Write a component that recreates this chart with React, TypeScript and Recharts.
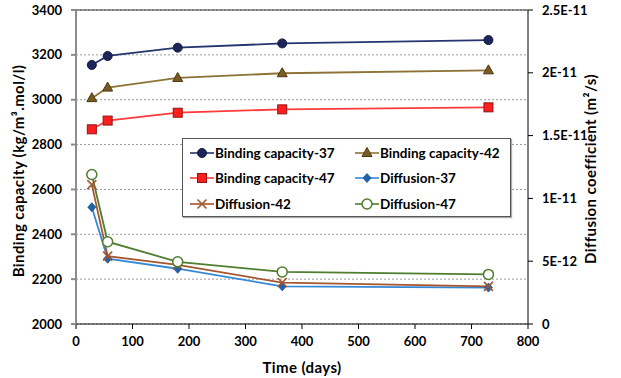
import { ComposedChart, Line, XAxis, YAxis, CartesianGrid, ReferenceLine } from 'recharts';

// curing time (days)
const days = [28, 56, 180, 365, 730];
// binding capacity (kg/m3.mol/l)
const binding37 = [3155, 3195, 3232, 3251, 3266];
const binding42 = [3007, 3054, 3097, 3118, 3131];
const binding47 = [2868, 2907, 2942, 2957, 2966];
// diffusion coefficient (m2/s)
const diffusion37 = [9.3e-12, 5.2e-12, 4.4e-12, 3.0e-12, 2.9e-12];
const diffusion42 = [11.1e-12, 5.4e-12, 4.7e-12, 3.3e-12, 3.0e-12];
const diffusion47 = [11.9e-12, 6.55e-12, 4.95e-12, 4.15e-12, 3.95e-12];

const xTicks = [0, 100, 200, 300, 400, 500, 600, 700, 800];
const leftTicks = [2000, 2200, 2400, 2600, 2800, 3000, 3200, 3400];
const rightTicks = [0, 5e-12, 1e-11, 1.5e-11, 2e-11, 2.5e-11];

const data = days.map((d, i) => ({
  day: d,
  binding37: binding37[i],
  binding42: binding42[i],
  binding47: binding47[i],
  diffusion37: diffusion37[i],
  diffusion42: diffusion42[i],
  diffusion47: diffusion47[i],
}));

type Shape = 'circle' | 'triangle' | 'square' | 'diamond' | 'cross' | 'ring';

const series: { key: string; name: string; axis: string; line: string; fill: string; edge: string; shape: Shape }[] = [
  { key: 'binding37', name: 'Binding capacity-37', axis: 'left', line: '#26346F', fill: '#1C2658', edge: '#141B40', shape: 'circle' },
  { key: 'binding42', name: 'Binding capacity-42', axis: 'left', line: '#8C7235', fill: '#7A5C22', edge: '#4A3810', shape: 'triangle' },
  { key: 'binding47', name: 'Binding capacity-47', axis: 'left', line: '#FF3B3B', fill: '#FF1E1E', edge: '#8E1414', shape: 'square' },
  { key: 'diffusion37', name: 'Diffusion-37', axis: 'right', line: '#3489D6', fill: '#1E63AC', edge: '#1A4F8A', shape: 'diamond' },
  { key: 'diffusion42', name: 'Diffusion-42', axis: 'right', line: '#A6562E', fill: '#A6562E', edge: '#8A4020', shape: 'cross' },
  { key: 'diffusion47', name: 'Diffusion-47', axis: 'right', line: '#4E7E2E', fill: '#ffffff', edge: '#4E7E2E', shape: 'ring' },
];

const font = 'Lato, "Open Sans", sans-serif';

function Marker({ cx, cy, shape, fill, edge }: { cx: number; cy: number; shape: Shape; fill: string; edge: string }) {
  switch (shape) {
    case 'circle':
      return <circle cx={cx} cy={cy} r={4.5} fill={fill} stroke={edge} strokeWidth={1} />;
    case 'triangle':
      return (
        <polygon
          points={`${cx},${cy - 5.5} ${cx - 5},${cy + 3.5} ${cx + 5},${cy + 3.5}`}
          fill={fill}
          stroke={edge}
          strokeWidth={1}
        />
      );
    case 'square':
      return <rect x={cx - 4.5} y={cy - 4.5} width={9} height={9} fill={fill} stroke={edge} strokeWidth={1} />;
    case 'diamond':
      return (
        <polygon
          points={`${cx},${cy - 4.5} ${cx + 4},${cy} ${cx},${cy + 4.5} ${cx - 4},${cy}`}
          fill={fill}
          stroke={edge}
          strokeWidth={0.8}
        />
      );
    case 'cross':
      return (
        <g stroke={fill} strokeWidth={1.6}>
          <line x1={cx - 4.5} y1={cy - 4.5} x2={cx + 4.5} y2={cy + 4.5} />
          <line x1={cx - 4.5} y1={cy + 4.5} x2={cx + 4.5} y2={cy - 4.5} />
        </g>
      );
    default:
      return <circle cx={cx} cy={cy} r={5} fill={fill} stroke={edge} strokeWidth={1.5} />;
  }
}

// axis title drawn at a fixed spot; ignores the props recharts hands to labels
function AxisTitle({ px, py, rot, text }: { px: number; py: number; rot: number; text: string }) {
  return (
    <text
      transform={`translate(${px},${py}) rotate(${rot})`}
      textAnchor="middle"
      fontFamily={font}
      fontWeight={700}
      fontSize={15}
      letterSpacing={0.4}
      fill="#000"
    >
      {text}
    </text>
  );
}

const fmtRight = (v: number) => (v === 0 ? '0' : v.toExponential().replace('e', 'E'));

function ChartLegend() {
  return (
    <div
      style={{
        position: 'absolute',
        left: 182,
        top: 138,
        width: 329,
        height: 79,
        border: '1px solid #555',
        boxShadow: '1px 1px 1px #aaa',
        background: '#fff',
        boxSizing: 'border-box',
        display: 'grid',
        gridTemplateColumns: '165px 160px',
        gridAutoRows: '25.5px',
        paddingLeft: 7,
        paddingTop: 1,
        fontFamily: font,
        fontWeight: 700,
        fontSize: 13.5,
        color: '#000',
      }}
    >
      {series.map((s) => (
        <div key={s.key} style={{ display: 'flex', alignItems: 'center', height: 25.5 }}>
          <svg width={24} height={14} style={{ marginRight: 1 }}>
            <line x1={0} y1={7} x2={24} y2={7} stroke={s.line} strokeWidth={1.6} />
            <Marker cx={12} cy={7} shape={s.shape} fill={s.fill} edge={s.edge} />
          </svg>
          <span>{s.name}</span>
        </div>
      ))}
    </div>
  );
}

export default function App() {
  const tick = { fontSize: 13, fontWeight: 700, fill: '#000', fontFamily: font };
  return (
    <div style={{ position: 'absolute', left: 0, top: 0, width: 621, height: 378, background: '#fff' }}>
      <ComposedChart width={621} height={378} data={data} margin={{ top: 10, right: 0, bottom: 0, left: 0 }}>
        <CartesianGrid yAxisId="left" vertical={false} stroke="#9a9a9a" strokeDasharray="2 2" />
        <XAxis
          dataKey="day"
          type="number"
          domain={[0, 800]}
          ticks={xTicks}
          height={54}
          stroke="#000"
          tickSize={5}
          tickMargin={8}
          tick={tick}
          label={<AxisTitle px={302} py={373} rot={0} text="Time (days)" />}
        />
        <YAxis
          yAxisId="left"
          domain={[2000, 3400]}
          ticks={leftTicks}
          width={76}
          stroke="#8c8c8c"
          strokeWidth={2}
          tickSize={5}
          tickMargin={9}
          tick={tick}
          label={<AxisTitle px={24} py={171} rot={-90} text="Binding capacity (kg/m³.mol/l)" />}
        />
        <YAxis
          yAxisId="right"
          orientation="right"
          domain={[0, 2.5e-11]}
          ticks={rightTicks}
          tickFormatter={fmtRight}
          width={93}
          stroke="#000"
          tickSize={5}
          tickMargin={9}
          tick={tick}
          label={<AxisTitle px={596} py={169} rot={-90} text="Diffusion coefficient (m²/s)" />}
        />
        <ReferenceLine yAxisId="left" y={3400} stroke="#333" />
        {series.map((s) => (
          <Line
            key={s.key}
            yAxisId={s.axis}
            dataKey={s.key}
            name={s.name}
            stroke={s.line}
            strokeWidth={1.8}
            isAnimationActive={false}
            activeDot={false}
            dot={(p: any) => (
              <Marker key={`${s.key}-${p.index}`} cx={p.cx} cy={p.cy} shape={s.shape} fill={s.fill} edge={s.edge} />
            )}
          />
        ))}
      </ComposedChart>
      <ChartLegend />
    </div>
  );
}
